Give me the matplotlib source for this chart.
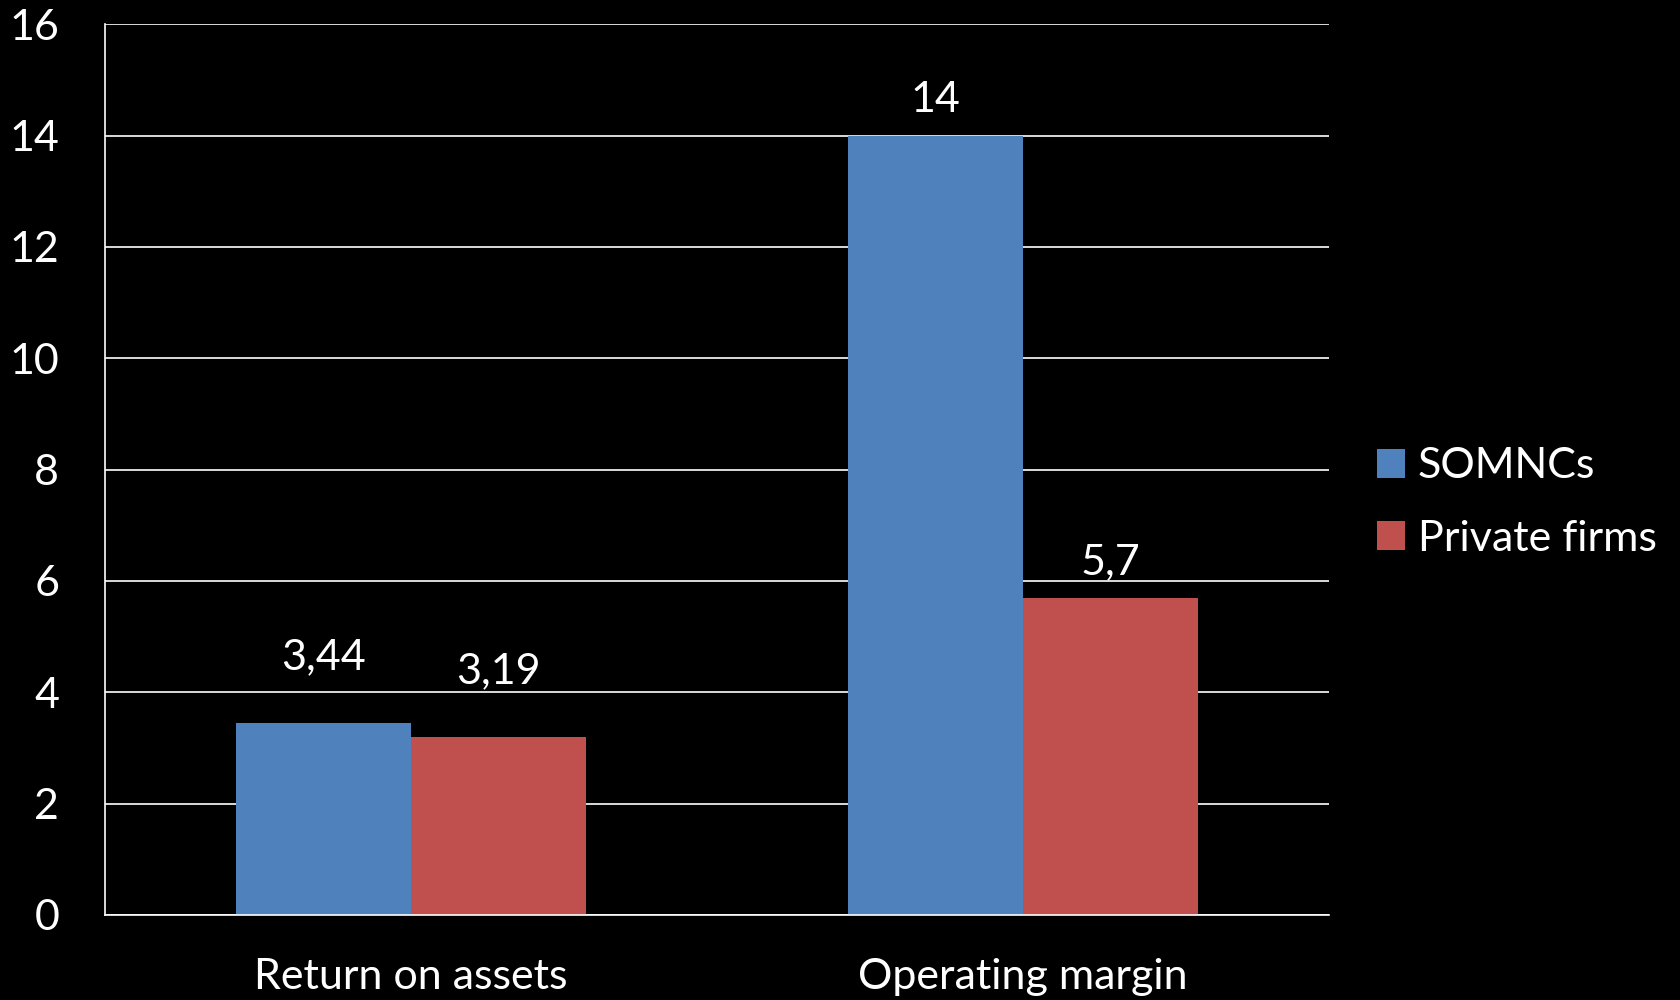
import matplotlib
matplotlib.use("Agg")
import matplotlib.pyplot as plt
import numpy as np
from matplotlib.patches import Patch

plt.rcParams['font.family'] = ['Lato', 'DejaVu Sans']

categories = ["Return on assets", "Operating margin"]
series_names = ["SOMNCs", "Private firms"]
somncs = [3.44, 14]
private_firms = [3.19, 5.7]
value_labels = [["3,44", "14"], ["3,19", "5,7"]]
y_ticks = [0, 2, 4, 6, 8, 10, 12, 14, 16]

colors = ["#4F81BD", "#C0504D"]
# vertical offset (points) of each value label above its bar
label_offsets = [[34, 12], [34, 12]]
FS = 31

fig = plt.figure(figsize=(16.81, 10), dpi=100, facecolor="black")
ax = fig.add_axes([0.0625, 0.085, 0.7281, 0.8907])
ax.set_facecolor("black")

x = np.arange(len(categories))
width = 0.286
series = [somncs, private_firms]
for i, (vals, col) in enumerate(zip(series, colors)):
    b = ax.bar(x + (i - 0.5) * width, vals, width, color=col, zorder=3,
               label=series_names[i])
    for j, rect in enumerate(b):
        ax.annotate(value_labels[i][j],
                    (rect.get_x() + rect.get_width() / 2, rect.get_height()),
                    xytext=(0, label_offsets[i][j]), textcoords="offset points",
                    ha="center", va="bottom", color="white", fontsize=FS)

ax.set_xlim(-0.5, 1.5)
ax.set_ylim(0, 16)
ax.set_yticks(y_ticks)
ax.set_yticklabels([str(t) for t in y_ticks])
ax.set_xticks(x)
ax.set_xticklabels(categories)
ax.tick_params(axis="y", length=0, pad=33, labelsize=FS, colors="white")
ax.tick_params(axis="x", length=0, pad=31, labelsize=FS, colors="white")
for lbl in ax.get_yticklabels():
    lbl.set_horizontalalignment("right")

ax.yaxis.grid(True, color="white", linewidth=1.2, zorder=1)
ax.set_axisbelow(True)
for side in ["top", "right"]:
    ax.spines[side].set_visible(False)
for side in ["left", "bottom"]:
    ax.spines[side].set_color("white")
    ax.spines[side].set_linewidth(1.2)
ax.spines["bottom"].set_zorder(4)

handles = [Patch(facecolor=c, edgecolor="none") for c in colors]
leg = fig.legend(handles, series_names, loc="center left",
                 bbox_to_anchor=(0.819, 0.4975), frameon=False,
                 fontsize=FS, labelcolor="white", handlelength=0.65,
                 handleheight=0.65, handletextpad=0.3, labelspacing=0.8,
                 borderpad=0, borderaxespad=0)

fig.savefig("out.png", dpi=100, facecolor="black")
